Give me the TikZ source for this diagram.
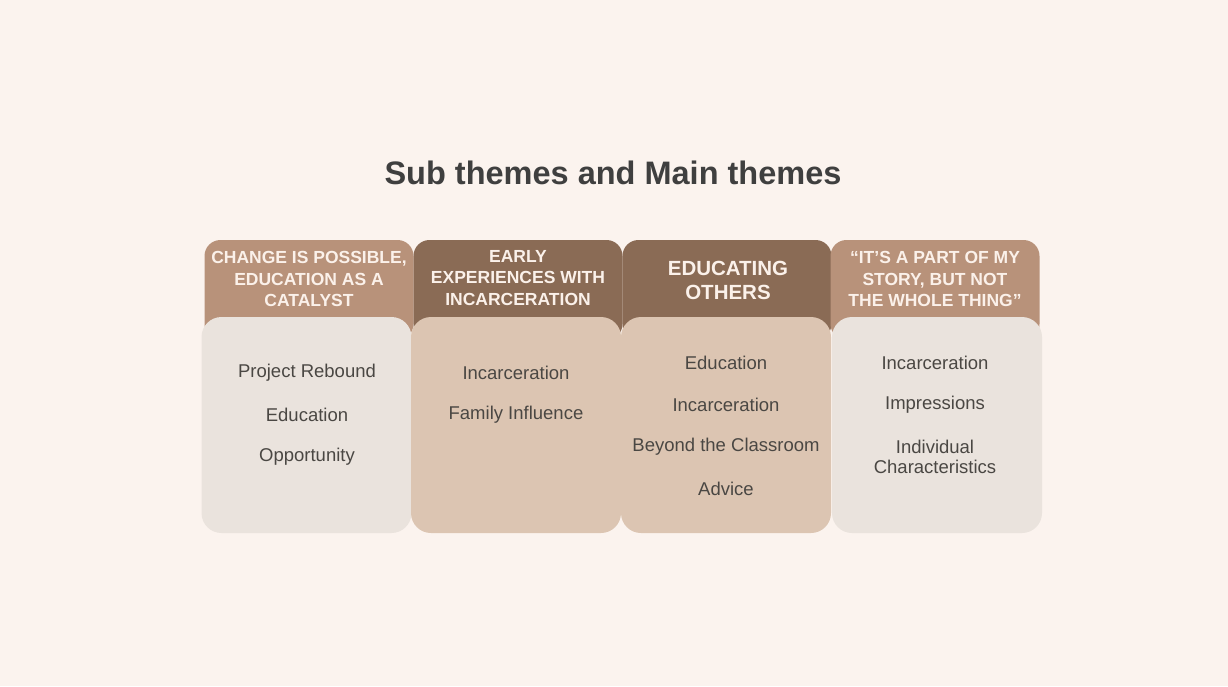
\documentclass[tikz,border=0pt]{standalone}
\usepackage{fontspec}
\setmainfont{Liberation Sans}
\usepackage{tikz}
\usetikzlibrary{positioning}

\definecolor{pagebg}{HTML}{FBF3EE}
\definecolor{headLight}{HTML}{B8927A}
\definecolor{headDark}{HTML}{8A6B55}
\definecolor{bodyLight}{HTML}{EAE3DD}
\definecolor{bodyTan}{HTML}{DCC5B2}
\definecolor{headfg}{HTML}{FBF1EA}
\definecolor{subfg}{HTML}{4A4743}
\definecolor{titlefg}{HTML}{3F3F3F}

\begin{document}
\begin{tikzpicture}[
    x=1pt, y=-1pt,
    headbox/.style={rounded corners=16pt, minimum width=209pt, minimum height=100pt, inner sep=0pt},
    bodybox/.style={rounded corners=20pt, minimum width=210pt, minimum height=216pt, inner sep=0pt},
    headtext/.style={text=headfg, font=\bfseries\fontsize{17.5}{21.5}\selectfont, align=center},
    subtext/.style={text=subfg, font=\fontsize{18.5}{20.5}\selectfont, align=center}
]

% Page
\fill[pagebg] (0,0) rectangle (1228,686);
\useasboundingbox (0,0) rectangle (1228,686);

\node[text=titlefg, font=\bfseries\fontsize{32.5}{38}\selectfont] (title) at (613,173) {Sub themes and Main themes};

% ==========================================
% Main themes (tabs behind the boxes)
\node[headbox, fill=headLight] (h1) at (309,290) {};
\node[headbox, fill=headDark] (h2) at (518,290) {};
\node[headbox, fill=headDark] (h3) at (727,290) {};
\node[headbox, fill=headLight] (h4) at (935,290) {};

\node[headtext] (t1) at (309,279) {CHANGE IS POSSIBLE,\\EDUCATION AS A\\CATALYST};
\node[headtext] (t2) at (518,278) {EARLY\\EXPERIENCES WITH\\INCARCERATION};
\node[headtext, font=\bfseries\fontsize{20.5}{24}\selectfont] (t3) at (728,280) {EDUCATING\\OTHERS};
\node[headtext] (t4) at (935,279) {“IT’S A PART OF MY\\STORY, BUT NOT\\THE WHOLE THING”};

% ==========================================
% Sub themes
\node[bodybox, fill=bodyLight] (b1) at (306.5,425) {};
\node[bodybox, fill=bodyTan] (b2) at (516,425) {};
\node[bodybox, fill=bodyTan] (b3) at (726,425) {};
\node[bodybox, fill=bodyLight] (b4) at (937,425) {};

\foreach \txt [count=\i] in {Project Rebound, Education, Opportunity}
    \node[subtext] (s1-\i) at (307,373+42*\i-42) {\txt};
\foreach \txt [count=\i] in {Incarceration, Family Influence}
    \node[subtext] (s2-\i) at (516,373+42*\i-42) {\txt};
\foreach \txt [count=\i] in {Education, Incarceration, Beyond the Classroom, Advice}
    \node[subtext] (s3-\i) at (726,363+42*\i-42) {\txt};
\foreach \txt [count=\i] in {Incarceration, Impressions}
    \node[subtext] (s4-\i) at (935,363+42*\i-42) {\txt};
\node[subtext] (s4-3) at (935,457) {Individual\\Characteristics};

\end{tikzpicture}
\end{document}
